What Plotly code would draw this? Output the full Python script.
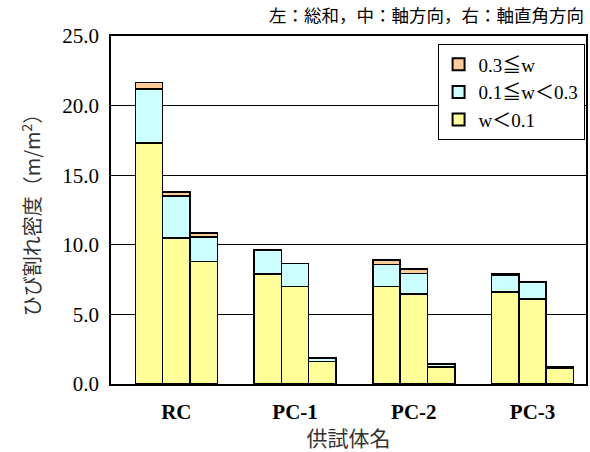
import plotly.graph_objects as go

groups = ["RC", "PC-1", "PC-2", "PC-3"]
sub_labels = ["総和", "軸方向", "軸直角方向"]
# values per group: [総和, 軸方向, 軸直角方向]
w_small = [[17.3, 10.5, 8.8], [7.9, 7.0, 1.6], [7.0, 6.45, 1.22], [6.6, 6.1, 1.1]]
w_mid = [[3.9, 3.0, 1.75], [1.7, 1.65, 0.27], [1.6, 1.5, 0.19], [1.18, 1.23, 0.1]]
w_large = [[0.45, 0.3, 0.3], [0.07, 0.0, 0.0], [0.3, 0.3, 0.05], [0.12, 0.0, 0.06]]

series_names = ["w＜0.1", "0.1≦w＜0.3", "0.3≦w"]
series_data = [w_small, w_mid, w_large]
colors = ["#FFFF99", "#CCFFFF", "#FFCC99"]

bar_w = 0.23
offsets = [-1, 0, 1]

xs = []
for gi in range(len(groups)):
    for oi in offsets:
        xs.append(gi + oi * bar_w)

fig = go.Figure()
for name, data, col in zip(series_names, series_data, colors):
    ys = [v for grp in data for v in grp]
    fig.add_trace(go.Bar(
        x=xs, y=ys, name=name, width=bar_w,
        marker=dict(color=col, line=dict(color="black", width=1.5)),
    ))

serif = "Liberation Serif, Times New Roman, serif"
cjk = "Noto Sans CJK JP, sans-serif"

fig.update_layout(
    barmode="stack",
    width=590, height=452,
    margin=dict(l=111, r=2, t=36, b=68),
    paper_bgcolor="white", plot_bgcolor="white",
    font=dict(family=serif, color="black", size=17),
    legend=dict(
        x=0.997, y=0.976, xanchor="right", yanchor="top",
        bordercolor="black", borderwidth=1, bgcolor="white",
        font=dict(family=serif + ", " + cjk, size=19),
        traceorder="reversed", itemsizing="constant", itemwidth=30,
        tracegroupgap=0,
    ),
    xaxis=dict(
        range=[-0.55, 3.45], tickmode="array",
        tickvals=list(range(len(groups))), ticktext=["<b>%s</b>" % g for g in groups],
        showline=True, linecolor="black", linewidth=1.5, mirror=True,
        showgrid=False, zeroline=False, ticks="", ticklabelstandoff=8,
        tickfont=dict(family=serif, size=21),
        title=dict(text="供試体名", font=dict(family=cjk, size=21, color="#333333"), standoff=6),
    ),
    yaxis=dict(
        range=[0, 25], dtick=5, tickformat=".1f",
        showline=True, linecolor="black", linewidth=1.5, mirror=True,
        showgrid=True, gridcolor="black", gridwidth=1, zeroline=False,
        ticks="", tickfont=dict(family=serif, size=21), ticklabelstandoff=6,
        title=dict(text="ひび割れ密度（m/m<sup>2</sup>）", font=dict(family=cjk, size=20, color="#333333"), standoff=16),
    ),
    annotations=[dict(
        text="左：総和，中：軸方向，右：軸直角方向",
        xref="paper", yref="paper", x=1.0, y=1.0, xanchor="right", yanchor="bottom",
        yshift=7, showarrow=False, font=dict(family=cjk, size=17.5, color="black"),
    )],
)

fig.write_html("out.html", config={"displayModeBar": False},
               post_script="document.body.style.margin='0';document.body.style.overflow='hidden';")
